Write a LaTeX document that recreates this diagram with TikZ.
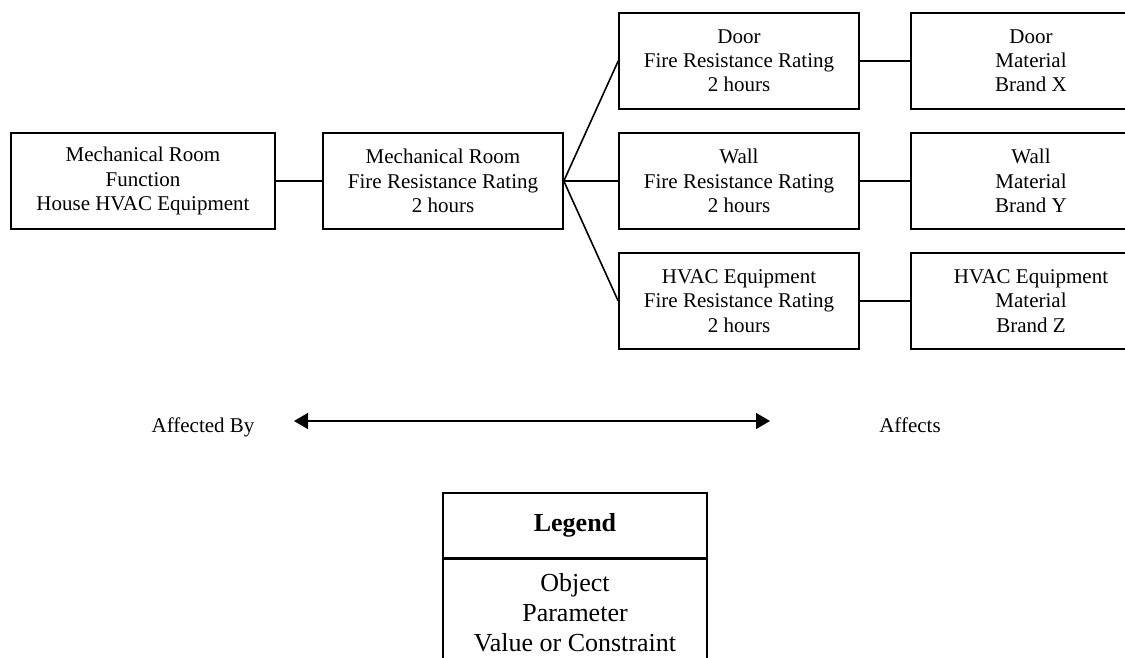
\documentclass[tikz,border=0pt]{standalone}
\usepackage{fontspec}
\setmainfont{Liberation Serif}
\usetikzlibrary{arrows.meta}

\tikzset{
  block/.style={draw=black, line width=1.6pt, rectangle, align=center,
    minimum width=240pt, minimum height=96pt, inner sep=0pt,
    font=\fontsize{21}{24.2}\selectfont},
  link/.style={line width=1.6pt},
  caption/.style={font=\fontsize{21}{24.2}\selectfont, inner sep=0pt},
  legendtext/.style={align=center, inner sep=0pt,
    font=\fontsize{26}{30}\selectfont},
  span/.style={line width=1.6pt, {Triangle[length=14pt,width=16pt]}-{Triangle[length=14pt,width=16pt]}}
}

\begin{document}
\begin{tikzpicture}[x=1pt, y=-1pt]
  \useasboundingbox (0,0) rectangle (1125,657);
  \clip (0,0) rectangle (1125,657);

  % chain of parameters
  \node[block, minimum width=264pt] (func) at (143,181)
    {Mechanical Room\\Function\\House HVAC Equipment};
  \node[block] (room) at (443,181)
    {Mechanical Room\\Fire Resistance Rating\\2 hours};

  \node[block] (door) at (739,61)
    {Door\\Fire Resistance Rating\\2 hours};
  \node[block] (wall) at (739,181)
    {Wall\\Fire Resistance Rating\\2 hours};
  \node[block] (hvac) at (739,301)
    {HVAC Equipment\\Fire Resistance Rating\\2 hours};

  \node[block] (doormat) at (1031,61)
    {Door\\Material\\Brand X};
  \node[block] (wallmat) at (1031,181)
    {Wall\\Material\\Brand Y};
  \node[block] (hvacmat) at (1031,301)
    {HVAC Equipment\\Material\\Brand Z};

  \draw[link] (func.east) -- (room.west);
  \draw[link] (room.east) -- (door.west);
  \draw[link] (room.east) -- (wall.west);
  \draw[link] (room.east) -- (hvac.west);
  \draw[link] (door.east) -- (doormat.west);
  \draw[link] (wall.east) -- (wallmat.west);
  \draw[link] (hvac.east) -- (hvacmat.west);

  % direction of influence
  \node[caption, anchor=base] (by) at (203,432) {Affected By};
  \node[caption, anchor=base] (affects) at (910,432) {Affects};
  \coordinate (spanl) at (294,421);
  \coordinate (spanr) at (770,421);
  \draw[span] (spanl) -- (spanr);

  % legend
  \node[draw=black, line width=1.6pt, minimum width=264pt, minimum height=65pt,
        inner sep=0pt, font=\fontsize{26}{30}\selectfont\bfseries]
    (legendhead) at (575,525.5) {Legend};
  \node[draw=black, line width=1.6pt, minimum width=264pt, minimum height=130pt,
        anchor=north, inner sep=0pt] (legendbody) at (legendhead.south) {};
  \node[legendtext, anchor=base] (lobj) at (575,591) {Object};
  \node[legendtext, anchor=base] (lpar) at (575,621) {Parameter};
  \node[legendtext, anchor=base] (lval) at (575,651) {Value or Constraint};
\end{tikzpicture}
\end{document}
